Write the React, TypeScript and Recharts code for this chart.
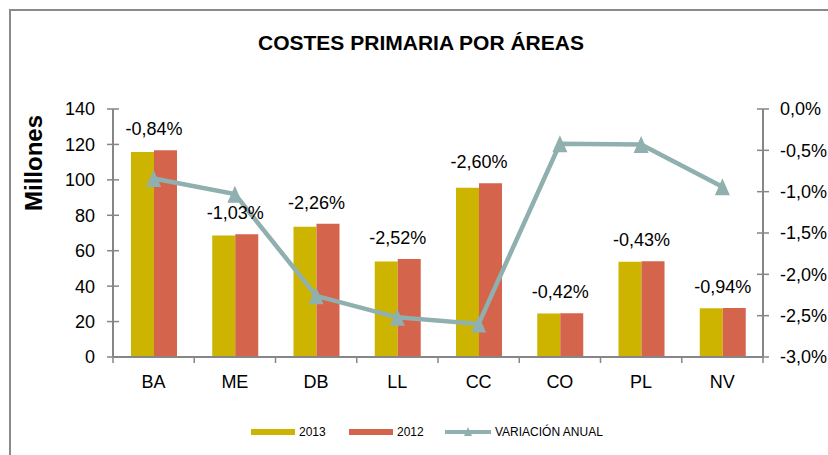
import React from 'react';
import { ComposedChart, Bar, Line, XAxis, YAxis, LabelList } from 'recharts';

const categories = ['BA', 'ME', 'DB', 'LL', 'CC', 'CO', 'PL', 'NV'];
const costs2013 = [115.7, 68.6, 73.5, 53.9, 95.6, 24.6, 53.8, 27.5];
const costs2012 = [116.7, 69.3, 75.2, 55.3, 98.1, 24.7, 54.0, 27.7];
const variation = [-0.84, -1.03, -2.26, -2.52, -2.6, -0.42, -0.43, -0.94];
const leftTicks = [0, 20, 40, 60, 80, 100, 120, 140];
const rightTicks = [-3, -2.5, -2, -1.5, -1, -0.5, 0];

const data = categories.map((c, i) => ({
  cat: c,
  y2013: costs2013[i],
  y2012: costs2012[i],
  v: variation[i],
}));

const W = 828;
const H = 455;
const PLOT_LEFT = 113;
const PLOT_RIGHT = 763;
const PLOT_TOP = 109;
const PLOT_BOTTOM = 357;
const FONT = '"Liberation Sans", Arial, sans-serif';
const AXIS = '#868686';
const C2013 = '#CCB400';
const C2012 = '#D4644B';
const CVAR = '#8FB0AE';
const BAND = (PLOT_RIGHT - PLOT_LEFT) / categories.length;

const fmtPct1 = (v: number) => v.toFixed(1).replace('.', ',') + '%';
const fmtPct2 = (v: number) => v.toFixed(2).replace('.', ',') + '%';

const LeftTick = (props: any) => {
  const { x, y, payload } = props;
  return (
    <g>
      <line x1={x + 12} x2={x + 24} y1={y} y2={y} stroke={AXIS} strokeWidth={1.5} />
      <text x={x} y={y} dy="0.355em" textAnchor="end" fontSize={18} fontFamily={FONT} fill="#000">
        {payload.value}
      </text>
    </g>
  );
};

const RightTick = (props: any) => {
  const { x, y, payload } = props;
  return (
    <g>
      <line x1={x - 23} x2={x - 11} y1={y} y2={y} stroke={AXIS} strokeWidth={1.5} />
      <text x={x} y={y} dy="0.355em" textAnchor="start" fontSize={18} fontFamily={FONT} fill="#000">
        {fmtPct1(payload.value)}
      </text>
    </g>
  );
};

const BottomTick = (props: any) => {
  const { x, y, payload, index, visibleTicksCount } = props;
  const y0 = PLOT_BOTTOM;
  return (
    <g>
      <line x1={x - BAND / 2} x2={x - BAND / 2} y1={y0} y2={y0 + 6} stroke={AXIS} strokeWidth={1.5} />
      {index === visibleTicksCount - 1 && (
        <line x1={x + BAND / 2} x2={x + BAND / 2} y1={y0} y2={y0 + 6} stroke={AXIS} strokeWidth={1.5} />
      )}
      <text x={x} y={y} dy="0.71em" textAnchor="middle" fontSize={18} fontFamily={FONT} fill="#000">
        {payload.value}
      </text>
    </g>
  );
};

const Triangle = (props: any) => {
  const { cx, cy } = props;
  if (cx == null || cy == null) return null;
  return (
    <polygon
      points={`${cx},${cy - 8.5} ${cx - 7.5},${cy + 8.5} ${cx + 7.5},${cy + 8.5}`}
      fill={CVAR}
    />
  );
};

const VarLabel = (props: any) => {
  const { x, y, value } = props;
  return (
    <text x={x} y={y - 15} textAnchor="middle" fontSize={18} fontFamily={FONT} fill="#000">
      {fmtPct2(value)}
    </text>
  );
};

const legendItems = [
  { name: '2013', color: C2013, kind: 'bar' },
  { name: '2012', color: C2012, kind: 'bar' },
  { name: 'VARIACIÓN ANUAL', color: CVAR, kind: 'line' },
];
const legendX = [251, 349, 445];

export default function App() {
  return (
    <div style={{ position: 'absolute', left: 0, top: 0, width: W, height: H, background: '#fff', overflow: 'hidden' }}>
      <ComposedChart
        width={W}
        height={H}
        data={data}
        margin={{ top: PLOT_TOP, right: 0, left: 0, bottom: H - PLOT_BOTTOM - 40 }}
        barGap={0}
      >
        <XAxis
          dataKey="cat"
          xAxisId="x"
          height={40}
          axisLine={{ stroke: AXIS, strokeWidth: 2 }}
          tickLine={false}
          tickSize={6}
          tickMargin={12}
          tick={<BottomTick />}
          interval={0}
        />
        <YAxis
          yAxisId="left"
          orientation="left"
          width={PLOT_LEFT}
          domain={[0, 140]}
          ticks={leftTicks}
          axisLine={{ stroke: AXIS, strokeWidth: 2 }}
          tickLine={false}
          tickSize={6}
          tickMargin={12}
          tick={<LeftTick />}
          interval={0}
        />
        <YAxis
          yAxisId="right"
          orientation="right"
          width={W - PLOT_RIGHT}
          domain={[-3, 0]}
          ticks={rightTicks}
          axisLine={{ stroke: AXIS, strokeWidth: 2 }}
          tickLine={false}
          tickSize={6}
          tickMargin={11}
          tick={<RightTick />}
          interval={0}
        />
        <Bar xAxisId="x" yAxisId="left" dataKey="y2013" fill={C2013} barSize={23} isAnimationActive={false} />
        <Bar xAxisId="x" yAxisId="left" dataKey="y2012" fill={C2012} barSize={23} isAnimationActive={false}>
          <LabelList dataKey="v" content={<VarLabel />} />
        </Bar>
        <Line
          xAxisId="x"
          yAxisId="right"
          dataKey="v"
          stroke={CVAR}
          strokeWidth={4.5}
          dot={<Triangle />}
          activeDot={false}
          isAnimationActive={false}
        />
      </ComposedChart>
      <svg
        width={W}
        height={H}
        style={{ position: 'absolute', left: 0, top: 0, pointerEvents: 'none' }}
      >
        <path d={`M10,${H + 10} L10,10 L${W + 10},10`} fill="none" stroke="#8a8a8a" strokeWidth={2} />
        <text x={421} y={50} textAnchor="middle" fontSize={21} fontWeight="bold" fontFamily={FONT} fill="#000">
          COSTES PRIMARIA POR ÁREAS
        </text>
        <text
          x={0}
          y={0}
          transform="translate(42,163) rotate(-90)"
          textAnchor="middle"
          fontSize={24}
          fontWeight="bold"
          fontFamily={FONT}
          fill="#000"
        >
          Millones
        </text>
        {legendItems.map((it, i) => {
          const lx = legendX[i];
          const cy = 432;
          return (
            <g key={it.name}>
              {it.kind === 'bar' ? (
                <rect x={lx} y={cy - 3} width={44} height={6} fill={it.color} />
              ) : (
                <g>
                  <line x1={lx} x2={lx + 46} y1={cy} y2={cy} stroke={it.color} strokeWidth={4} />
                  <polygon points={`${lx + 23},${cy - 5} ${lx + 19},${cy + 4} ${lx + 27},${cy + 4}`} fill={it.color} />
                </g>
              )}
              <text x={lx + (it.kind === 'bar' ? 48 : 50)} y={cy} dy="0.355em" fontSize={12} fontFamily={FONT} fill="#000">
                {it.name}
              </text>
            </g>
          );
        })}
      </svg>
    </div>
  );
}
